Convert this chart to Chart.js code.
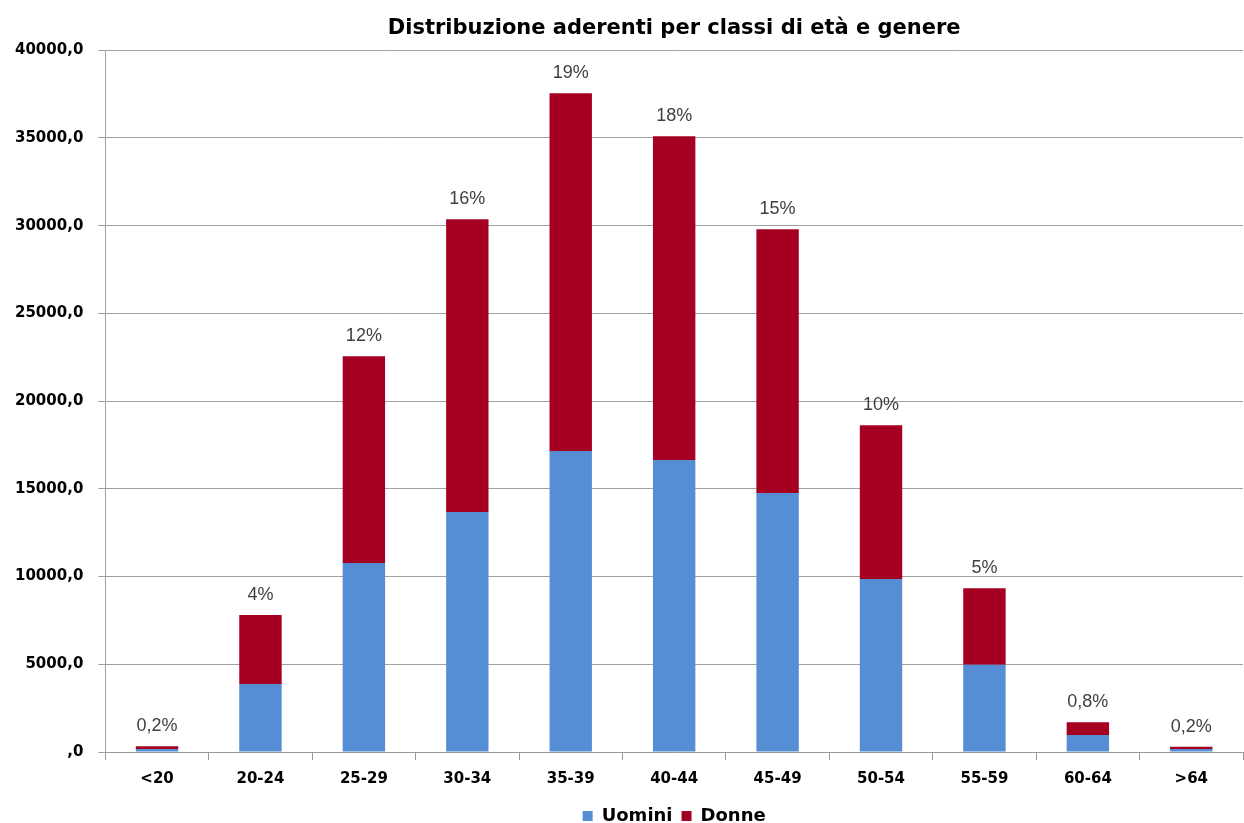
<!DOCTYPE html>
<html>
<head>
<meta charset="utf-8">
<script src="https://cdn.jsdelivr.net/npm/chart.js@4.4.1/dist/chart.umd.min.js"></script>
<style>
html,body{margin:0;padding:0;background:#fff;}
#wrap{width:1244px;height:823px;position:relative;}
</style>
</head>
<body>
<div id="wrap"><canvas id="c" width="1244" height="823"></canvas></div>
<script>
const categories = ['<20','20-24','25-29','30-34','35-39','40-44','45-49','50-54','55-59','60-64','>64'];
const uomini = [170, 3875, 10770, 13680, 17150, 16640, 14760, 9860, 4970, 970, 170];
const donne  = [160, 3930, 11790, 16690, 20400, 18460, 15040, 8770, 4370, 720, 130];
const percentLabels = ['0,2%','4%','12%','16%','19%','18%','15%','10%','5%','0,8%','0,2%'];
const yTicks = [0,5000,10000,15000,20000,25000,30000,35000,40000];

const pctPlugin = {
  id: 'pctLabels',
  afterDatasetsDraw(chart) {
    const ctx = chart.ctx;
    const meta = chart.getDatasetMeta(chart.data.datasets.length - 1);
    ctx.save();
    ctx.font = '18px "Liberation Sans", Arial, sans-serif';
    ctx.fillStyle = '#404040';
    ctx.textAlign = 'center';
    ctx.textBaseline = 'bottom';
    meta.data.forEach((el, i) => {
      ctx.fillText(percentLabels[i], el.x, el.y - 11);
    });
    ctx.restore();
  }
};

new Chart(document.getElementById('c'), {
  type: 'bar',
  data: {
    labels: categories,
    datasets: [
      { label: 'Uomini', data: uomini, backgroundColor: '#558ED5', borderWidth: 0, barPercentage: 0.41, categoryPercentage: 1 },
      { label: 'Donne', data: donne, backgroundColor: '#A50021', borderWidth: 0, barPercentage: 0.41, categoryPercentage: 1 }
    ]
  },
  options: {
    responsive: false,
    animation: false,
    layout: { padding: { left: 0, right: 1, top: 0, bottom: -12 } },
    plugins: {
      title: {
        display: true,
        fullSize: false,
        text: 'Distribuzione aderenti per classi di età e genere',
        color: '#000',
        font: { family: '"DejaVu Sans", sans-serif', size: 21, weight: 'bold' },
        padding: { top: 16, bottom: 9 }
      },
      legend: {
        position: 'bottom',
        fullSize: false,
        labels: {
          color: '#000',
          boxWidth: 10,
          boxHeight: 10,
          padding: 9,
          font: { family: '"DejaVu Sans", sans-serif', size: 18, weight: 'bold' }
        }
      },
      tooltip: { enabled: false }
    },
    scales: {
      x: {
        stacked: true,
        grid: { drawOnChartArea: false, drawTicks: true, tickLength: 8, color: '#999999' },
        border: { color: '#999999', width: 1 },
        ticks: {
          color: '#000',
          padding: 10,
          maxRotation: 0,
          font: { family: '"DejaVu Sans", sans-serif', size: 15, weight: 'bold' }
        }
      },
      y: {
        stacked: true,
        min: 0,
        max: 40000,
        afterBuildTicks(scale) { scale.ticks = yTicks.map(v => ({ value: v })); },
        grid: { color: '#A0A0A0', tickLength: 7, lineWidth: 1 },
        border: { color: '#A0A0A0', width: 1 },
        ticks: {
          color: '#000',
          padding: 15,
          font: { family: '"DejaVu Sans", sans-serif', size: 15, weight: 'bold' },
          callback: (v) => (v === 0 ? '' : String(v)) + ',0'
        }
      }
    }
  },
  plugins: [pctPlugin]
});
</script>
</body>
</html>
